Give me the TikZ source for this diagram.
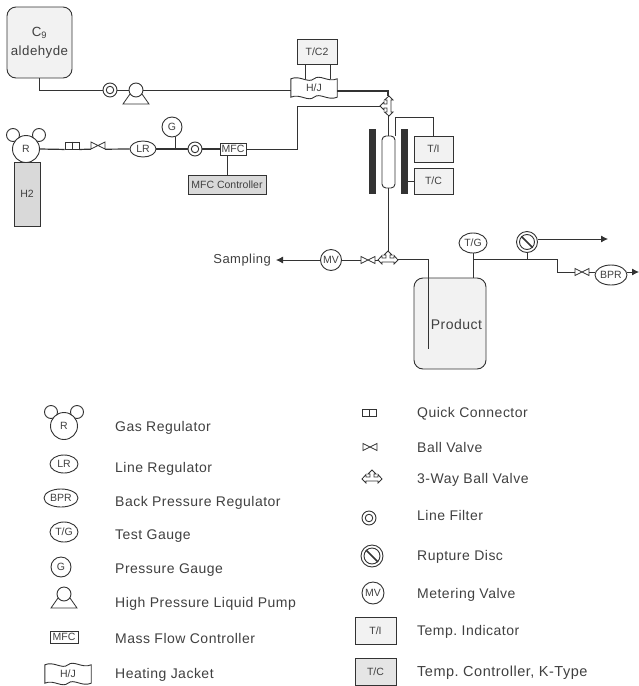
\documentclass[tikz,border=0pt]{standalone}
\usepackage{fontspec}
\setmainfont{Liberation Sans}
\newfontfamily\labfont[LetterSpace=3.5]{Liberation Sans}
\frenchspacing
\usetikzlibrary{arrows.meta,shapes.geometric,calc}
\definecolor{ink}{HTML}{333333}
\definecolor{txt}{HTML}{404040}
\tikzset{
  x=1pt,y=-1pt,
  every node/.style={text=txt,inner sep=0pt,font=\fontsize{12.5}{14}\selectfont},
  pipe/.style={draw=ink,line width=0.8pt,line join=miter},
  heavy/.style={draw=ink,line width=1.2pt},
  flow/.style={pipe,-{Latex[length=7pt,width=7pt]}},
  circ/.style={circle,draw=ink,line width=0.9pt,fill=white},
  oval/.style={ellipse,draw=ink,line width=0.9pt,fill=white},
  boxw/.style={rectangle,draw=ink,line width=0.9pt},
  sym/.style={rectangle,minimum width=14pt,minimum height=7pt},
  bigl/.style={font=\labfont\fontsize{14}{16}\selectfont},
  lab/.style={anchor=west,yshift=-1.5pt,bigl},
  small/.style={font=\fontsize{10.5}{12}\selectfont},
  ghost/.style={rectangle},
}
% ball valve #1 name, #2 position
\newcommand{\ballv}[2]{%
  \node[sym] (#1) at (#2) {};
  \draw[draw=ink,line width=0.8pt,fill=white] ($(#1)+(-7,-3.5)$) -- ($(#1)+(7,3.5)$) -- ($(#1)+(7,-3.5)$) -- ($(#1)+(-7,3.5)$) -- cycle;}
% line filter
\newcommand{\filt}[2]{%
  \node[circ,minimum size=14pt] (#1) at (#2) {};
  \node[circ,minimum size=7.5pt] (#1i) at (#1) {};}
% quick connector
\newcommand{\quick}[2]{%
  \node[boxw,fill=white,minimum width=14pt,minimum height=7pt] (#1) at (#2) {};
  \draw[draw=ink,line width=0.8pt] (#1.north) -- (#1.south);}
% pump
\newcommand{\pump}[2]{%
  \node[circ,minimum size=14pt] (#1) at (#2) {};
  \draw[draw=ink,line width=0.8pt] ($(#1)+(-6,4)$) -- ($(#1)+(-13,14)$) -- ($(#1)+(13,14)$) -- ($(#1)+(6,4)$);}
% rupture disc
\newcommand{\rupt}[3]{%
  \node[circ,minimum size=#3] (#1) at (#2) {};
  \node[circ,minimum size=#3-6pt] (#1i) at (#1) {};
  \draw[draw=ink,line width=1.5pt] (#1i.north west) -- (#1i.south east);}
% gas regulator
\newcommand{\gasreg}[4]{%
  \node[circ,minimum size=13pt] (#1a) at ($(#2)+(-13,-14)$) {};
  \node[circ,minimum size=13pt] (#1b) at ($(#2)+(13,-14)$) {};
  \node[circ,minimum size=27pt,small] (#1) at (#2) {R};}
% wavy jacket
\newcommand{\jacket}[2]{%
  \node[ghost,minimum width=46pt,minimum height=18pt,small] (#1) at (#2) {H/J};
  \draw[draw=ink,line width=0.9pt,fill=white]
    (#1.north west) .. controls ($(#1.north)+(-14,-4)$) and ($(#1.north)+(-6,5)$) .. (#1.north)
    .. controls ($(#1.north)+(6,-5)$) and ($(#1.north)+(14,4)$) .. (#1.north east)
    -- (#1.south east) .. controls ($(#1.south)+(14,4)$) and ($(#1.south)+(6,-5)$) .. (#1.south)
    .. controls ($(#1.south)+(-6,5)$) and ($(#1.south)+(-14,-4)$) .. (#1.south west) -- cycle;
  \node[small] at (#1) {H/J};}
% three way valve, horizontal
\newcommand{\threew}[2]{%
  \node[rectangle,minimum width=20pt,minimum height=14pt] (#1) at (#2) {};
  \begin{scope}[shift={(#1)}]
  \draw[draw=ink,line width=0.8pt,fill=white] (0,-7) -- (4,-3) -- (2,-3) -- (2,0) -- (6,0) -- (6,-2.5) -- (10,2) -- (6,6) -- (6,4) -- (-6,4) -- (-6,6) -- (-10,2) -- (-6,-2.5) -- (-6,0) -- (-2,0) -- (-2,-3) -- (-4,-3) -- cycle;
  \end{scope}}
\newcommand{\threewv}[2]{%
  \node[rectangle,minimum width=14pt,minimum height=20pt] (#1) at (#2) {};
  \begin{scope}[shift={(#1)},rotate=90]
  \draw[draw=ink,line width=0.8pt,fill=white] (0,-7) -- (4,-3) -- (2,-3) -- (2,0) -- (6,0) -- (6,-2.5) -- (10,2) -- (6,6) -- (6,4) -- (-6,4) -- (-6,6) -- (-10,2) -- (-6,-2.5) -- (-6,0) -- (-2,0) -- (-2,-3) -- (-4,-3) -- cycle;
  \end{scope}}
\begin{document}
\begin{tikzpicture}
\useasboundingbox (0,0) rectangle (639,686);
% ---- nodes ------------------------------------------------------------
\node[boxw,rounded corners=9pt,fill=black!5,minimum width=65pt,minimum height=71pt,align=center,font=\labfont\fontsize{13.3}{19}\selectfont] (tank) at (39.5,42.5) {C\textsubscript{9}\\aldehyde};
\filt{f1}{110,90}
\pump{pmp}{136,90}
\jacket{hj}{314,88}
\node[boxw,fill=black!5,minimum width=40pt,minimum height=25pt,small] (tc2) at (317,51.5) {T/C2};
\threewv{v3a}{387,106}
\coordinate (jt1) at (297,106);
\gasreg{reg}{26,149}{}{}
\node[boxw,fill=black!15,minimum width=26pt,minimum height=64pt,small] (h2) at (27,194) {H2};
\quick{qc}{72,145.5}
\ballv{bv1}{98,145.5}
\node[oval,minimum width=26pt,minimum height=16pt,small] (lr) at (143,149) {LR};
\node[circ,minimum size=20pt,small] (g) at (172,127) {G};
\filt{f2}{195,149}
\node[boxw,fill=white,minimum width=26pt,minimum height=12pt,small] (mfc) at (233,149) {MFC};
\node[boxw,fill=black!15,minimum width=78pt,minimum height=19pt,small] (mfcc) at (227,185) {MFC Controller};
\node[rectangle,fill=ink,minimum width=7pt,minimum height=65pt] (barl) at (372.5,161.5) {};
\node[rectangle,fill=ink,minimum width=7pt,minimum height=65pt] (barr) at (404.5,161.5) {};
\node[rectangle,draw=ink,line width=0.9pt,rounded corners=4pt,fill=white,minimum width=13pt,minimum height=52pt] (tube) at (388.5,162) {};
\node[boxw,fill=black!5,minimum width=39pt,minimum height=26pt,small] (ti) at (433.5,149) {T/I};
\node[boxw,fill=black!5,minimum width=39pt,minimum height=26pt,small] (tc) at (433.5,181) {T/C};
\threew{v3b}{388,258}
\ballv{bv2}{368,260}
\node[circ,minimum size=21pt,small] (mv) at (331,260) {MV};
\node[anchor=east,font=\labfont\fontsize{13}{16}\selectfont] (samp) at (271,260) {Sampling};
\node[boxw,rounded corners=9pt,fill=black!5,minimum width=72pt,minimum height=91pt] (prod) at (450,323.5) {};
\node[bigl] (prodl) at (456.5,324) {Product};
\node[oval,minimum width=28pt,minimum height=20pt,small] (tg) at (473,243) {T/G};
\rupt{rd}{527,242}{21pt}
\ballv{bv3}{582,272}
\node[oval,minimum width=32pt,minimum height=20pt,small] (bpr) at (611,275) {BPR};
\coordinate (out1) at (608,239);
\coordinate (out2) at (639,272);
\coordinate (dip) at (428,349);
\coordinate (tee1) at (428,259);
\coordinate (tee2) at (473,259);
\coordinate (tee3) at (527,259);
\coordinate (tee4) at (557,259);
\coordinate (tee5) at (557,272);
\coordinate (j1) at (39,90);
\coordinate (j2) at (388,91);
\coordinate (j3) at (395,117);
\coordinate (j4) at (433,117);
% ---- connectors -------------------------------------------------------
\draw[pipe] (tank.south -| j1) -- (j1) -- (f1.west);
\draw[pipe] (f1.east) -- (pmp.west);
\draw[pipe] (pmp.east) -- (hj.west |- pmp);
\draw[heavy] (hj.east |- j2) -- (j2) -- (v3a.north -| j2);
\draw[pipe] (tc2.south -| 305,0) -- (hj.north -| 305,0);
\draw[pipe] (tc2.south -| 330,0) -- (hj.north -| 330,0);
\draw[pipe] (mfc.east) -| (jt1) -- (v3a.west);
\draw[heavy] (reg.east) -- (qc.south west);
\draw[heavy] (qc.south east) -- (bv1.south west);
\draw[heavy] (bv1.south east) -- (lr.west);
\draw[heavy] (lr.east) -- (f2.west);
\draw[pipe] (g.south -| 175,0) -- (175,149);
\draw[heavy] (f2.east) -- (mfc.west);
\draw[pipe] (mfc.south -| mfcc) -- (mfcc.north);
\draw[pipe] (v3a.south -| j2) -- (tube.north -| j2);
\draw[pipe] (tube.south -| j2) -- (v3b.north -| j2);
\draw[pipe] (tube.north -| j3) -- (j3) -- (j4) -- (ti.north -| j4);
\draw[pipe] (barr.east |- tc) -- (tc.west);
\draw[pipe] (v3b.east |- tee1) -- (tee1) -- (dip);
\draw[flow,shorten >=5pt] (mv.west) -- (samp.east);
\draw[pipe] (mv.east) -- (bv2.west);
\draw[pipe] (bv2.east) -- (v3b.west |- bv2);
\draw[pipe] (tg.south) -- (prod.north -| tg);
\draw[pipe] (tee2) -- (tee4) -- (tee5) -- (bv3.west);
\draw[pipe] (rd.south) -- (tee3);
\draw[flow] (rd.east |- out1) -- (out1);
\draw[pipe] (bv3.east) -- (bpr.west |- bv3);
\draw[flow] (bpr.east |- out2) -- (out2);
% ---- legend -----------------------------------------------------------
\gasreg{lreg}{64,426}{}{}
\node[lab] (t1) at (115,426) {Gas Regulator};
\node[oval,minimum width=28pt,minimum height=18pt,small] (l2) at (64,464) {LR};
\node[lab] (t2) at (115,467) {Line Regulator};
\node[oval,minimum width=34pt,minimum height=18pt,small] (l3) at (61,498) {BPR};
\node[lab] (t3) at (115,501) {Back Pressure Regulator};
\node[oval,minimum width=28pt,minimum height=20pt,small] (l4) at (64,532) {T/G};
\node[lab] (t4) at (115,535) {Test Gauge};
\node[circ,minimum size=20pt,small] (l5) at (61,567) {G};
\node[lab] (t5) at (115,569) {Pressure Gauge};
\pump{l6}{64,594}
\node[lab] (t6) at (115,602) {High Pressure Liquid Pump};
\node[boxw,minimum width=28pt,minimum height=12pt,small] (l7) at (64,637) {MFC};
\node[lab] (t7) at (115,637) {Mass Flow Controller};
\jacket{l8}{68,674}
\node[lab] (t8) at (115,673) {Heating Jacket};
\quick{r1}{369.5,413}
\node[lab] (u1) at (417,412) {Quick Connector};
\ballv{r2}{370,447}
\node[lab] (u2) at (417,446) {Ball Valve};
\threew{r3}{372,477}
\node[lab] (u3) at (417,478) {3-Way Ball Valve};
\filt{r4}{369,518}
\node[lab] (u4) at (417,514) {Line Filter};
\rupt{r5}{372,556}{22pt}
\node[lab] (u5) at (417,555) {Rupture Disc};
\node[circ,minimum size=22pt,small] (r6) at (373,593) {MV};
\node[lab] (u6) at (417,593) {Metering Valve};
\node[boxw,fill=black!5,minimum width=41pt,minimum height=27pt,small] (r7) at (375.5,630.5) {T/I};
\node[lab] (u7) at (417,630) {Temp. Indicator};
\node[boxw,fill=black!10,minimum width=41pt,minimum height=27pt,small] (r8) at (375.5,671.5) {T/C};
\node[lab,font=\labfont\fontsize{14.5}{16}\selectfont] (u8) at (417,671) {Temp. Controller, K-Type};
\end{tikzpicture}
\end{document}
